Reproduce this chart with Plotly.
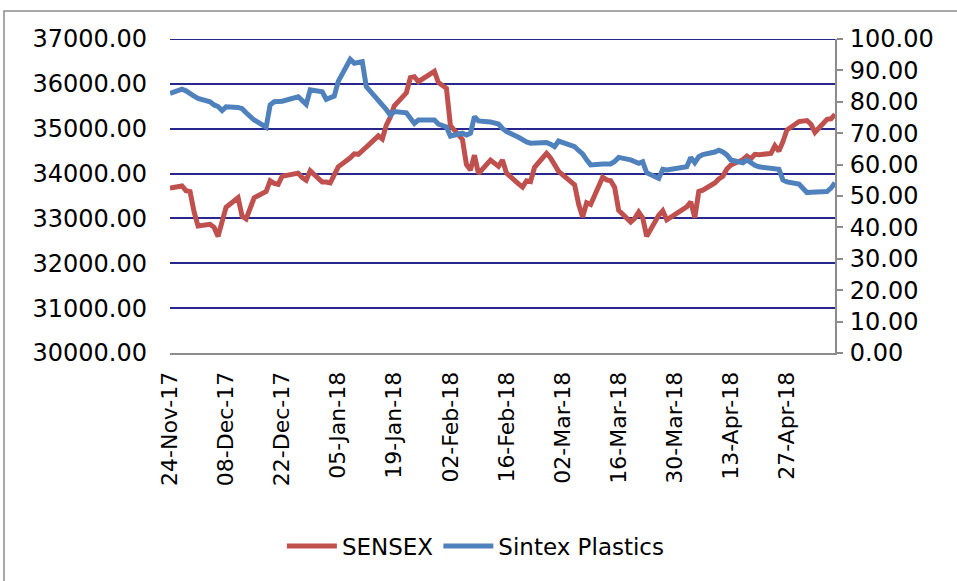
import plotly.graph_objects as go

# ---------------- data ----------------
sensex_dates = [
    "2017-11-24", "2017-11-27", "2017-11-28", "2017-11-29", "2017-11-30",
    "2017-12-01", "2017-12-04", "2017-12-05", "2017-12-06", "2017-12-07",
    "2017-12-08", "2017-12-11", "2017-12-12", "2017-12-13", "2017-12-14",
    "2017-12-15", "2017-12-18", "2017-12-19", "2017-12-20", "2017-12-21",
    "2017-12-22", "2017-12-26", "2017-12-27", "2017-12-28", "2017-12-29",
    "2018-01-01", "2018-01-02", "2018-01-03", "2018-01-04", "2018-01-05",
    "2018-01-08", "2018-01-09", "2018-01-10", "2018-01-11", "2018-01-12",
    "2018-01-15", "2018-01-16", "2018-01-17", "2018-01-18", "2018-01-19",
    "2018-01-22", "2018-01-23", "2018-01-24", "2018-01-25", "2018-01-29",
    "2018-01-30", "2018-01-31", "2018-02-01", "2018-02-02", "2018-02-05",
    "2018-02-06", "2018-02-07", "2018-02-08", "2018-02-09", "2018-02-12",
    "2018-02-14", "2018-02-15", "2018-02-16", "2018-02-19", "2018-02-20",
    "2018-02-21", "2018-02-22", "2018-02-23", "2018-02-26", "2018-02-27",
    "2018-02-28", "2018-03-01", "2018-03-05", "2018-03-06", "2018-03-07",
    "2018-03-08", "2018-03-09", "2018-03-12", "2018-03-13", "2018-03-14",
    "2018-03-15", "2018-03-16", "2018-03-19", "2018-03-20", "2018-03-21",
    "2018-03-22", "2018-03-23", "2018-03-26", "2018-03-27", "2018-03-28",
    "2018-04-02", "2018-04-03", "2018-04-04", "2018-04-05", "2018-04-06",
    "2018-04-09", "2018-04-10", "2018-04-11", "2018-04-12", "2018-04-13",
    "2018-04-16", "2018-04-17", "2018-04-18", "2018-04-19", "2018-04-20",
    "2018-04-23", "2018-04-24", "2018-04-25", "2018-04-26", "2018-04-27",
    "2018-04-30", "2018-05-02", "2018-05-03", "2018-05-04", "2018-05-07",
    "2018-05-08", "2018-05-09",
]
sensex_values = [
    33680, 33725, 33620, 33600, 33150,
    32830, 32870, 32800, 32600, 32950,
    33250, 33460, 33050, 32990, 33250,
    33460, 33600, 33840, 33780, 33760,
    33940, 34010, 33910, 33850, 34060,
    33810, 33810, 33790, 33970, 34150,
    34350, 34440, 34430, 34500, 34590,
    34840, 34770, 35080, 35260, 35510,
    35800, 36140, 36160, 36050, 36280,
    36030, 35960, 35900, 35070, 34760,
    34200, 34080, 34410, 34000, 34300,
    34160, 34300, 34010, 33770, 33700,
    33840, 33820, 34140, 34450, 34350,
    34180, 34050, 33750, 33320, 33030,
    33350, 33310, 33920, 33860, 33840,
    33690, 33180, 32920, 33000, 33140,
    33010, 32600, 33070, 33170, 32970,
    33260, 33370, 33020, 33600, 33630,
    33790, 33880, 33940, 34100, 34190,
    34310, 34390, 34330, 34430, 34420,
    34450, 34620, 34500, 34710, 34970,
    35160, 35180, 35100, 34920, 35210,
    35220, 35320,
]

sintex_dates = list(sensex_dates)
sintex_values = [
    82.7, 84.0, 83.5, 82.5, 81.8,
    81.1, 80.0, 79.0, 78.5, 77.2,
    78.4, 78.2, 77.8, 76.5, 75.3,
    74.2, 71.9, 79.0, 80.0, 80.0,
    80.2, 81.6, 80.5, 79.2, 83.8,
    83.2, 80.8, 81.5, 81.8, 86.5,
    93.5, 92.3, 92.5, 92.8, 84.8,
    80.6, 78.7, 77.5, 75.8, 76.9,
    76.5, 75.0, 73.1, 74.2, 74.2,
    72.9, 72.6, 72.0, 69.1, 70.0,
    69.4, 70.0, 75.3, 73.9, 73.6,
    72.9, 71.5, 70.5, 68.7, 67.8,
    67.2, 66.8, 66.8, 67.0, 66.5,
    65.7, 67.5, 65.7, 64.5, 63.4,
    61.5, 59.9, 60.2, 60.4, 60.2,
    61.0, 62.3, 61.5, 60.8, 60.4,
    60.9, 57.4, 55.6, 58.5, 58.3,
    59.3, 62.3, 60.6, 62.5, 63.2,
    64.0, 64.6, 64.0, 63.1, 61.5,
    60.6, 61.5, 60.5, 59.8, 59.3,
    58.7, 58.6, 58.5, 55.1, 54.5,
    53.8, 51.1, 51.2, 51.3, 51.4,
    52.5, 54.2,
]

series_names = ["SENSEX", "Sintex Plastics"]
left_ticks = [30000, 31000, 32000, 33000, 34000, 35000, 36000, 37000]
right_ticks = [0, 10, 20, 30, 40, 50, 60, 70, 80, 90, 100]
x_tick_dates = ["2017-11-24", "2017-12-08", "2017-12-22", "2018-01-05",
                "2018-01-19", "2018-02-02", "2018-02-16", "2018-03-02",
                "2018-03-16", "2018-03-30", "2018-04-13", "2018-04-27"]
x_tick_labels = ["24-Nov-17", "08-Dec-17", "22-Dec-17", "05-Jan-18",
                 "19-Jan-18", "02-Feb-18", "16-Feb-18", "02-Mar-18",
                 "16-Mar-18", "30-Mar-18", "13-Apr-18", "27-Apr-18"]

# ---------------- figure ----------------
FONT = "DejaVu Sans"
RED = "#C0504D"
BLUE = "#4F81BD"
GRID = "#28288C"

fig = go.Figure()
fig.add_trace(go.Scatter(x=sensex_dates, y=sensex_values, name=series_names[0],
                         mode="lines", line=dict(color=RED, width=5),
                         yaxis="y"))
fig.add_trace(go.Scatter(x=sintex_dates, y=sintex_values, name=series_names[1],
                         mode="lines", line=dict(color=BLUE, width=5),
                         yaxis="y2"))

W, H = 957, 581
L, R, T, B = 170, 122, 39, 228
pw, ph = W - L - R, H - T - B


def px2paper(x, y):
    return (x - L) / pw, (H - B - y) / ph


bx0, by0 = px2paper(4, 585)
bx1, by1 = px2paper(962, 11)

fig.update_layout(
    width=W, height=H,
    margin=dict(l=L, r=R, t=T, b=B, pad=0),
    paper_bgcolor="white", plot_bgcolor="white",
    font=dict(family=FONT, size=22, color="black"),
    showlegend=True,
    legend=dict(orientation="h", x=0.46, y=px2paper(0, 546)[1],
                xanchor="center", yanchor="middle",
                font=dict(family=FONT, size=23, color="black"),
                itemwidth=50, tracegroupgap=0, bgcolor="rgba(0,0,0,0)"),
    xaxis=dict(
        type="date",
        range=["2017-11-24", "2018-05-09"],
        tickmode="array", tickvals=x_tick_dates, ticktext=x_tick_labels,
        tickangle=-90, ticks="", showgrid=False,
        showline=True, linecolor="#8C8C8C", linewidth=2,
        tickfont=dict(family=FONT, size=22, color="black"),
        ticklabelstandoff=8,
        zeroline=False,
    ),
    yaxis=dict(
        range=[30000, 37000], tickmode="array", tickvals=left_ticks,
        tickformat=".2f", showgrid=True, gridcolor=GRID, gridwidth=2,
        showline=False, ticks="", zeroline=False,
        tickfont=dict(family=FONT, size=24, color="black"),
        ticklabelstandoff=22,
    ),
    yaxis2=dict(
        range=[0, 100], tickmode="array", tickvals=right_ticks,
        tickformat=".2f", overlaying="y", side="right", showgrid=False,
        showline=True, linecolor="#8C8C8C", linewidth=2,
        ticks="outside", ticklen=6, tickcolor="#8C8C8C", tickwidth=2,
        zeroline=False,
        tickfont=dict(family=FONT, size=24, color="black"),
        ticklabelstandoff=2,
    ),
    shapes=[
        dict(type="rect", xref="paper", yref="paper",
             x0=bx0, y0=by0, x1=bx1, y1=by1,
             line=dict(color="#8C8C8C", width=1.5),
             fillcolor="rgba(0,0,0,0)", layer="below"),
        dict(type="line", xref="paper", yref="y",
             x0=0, x1=1, y0=left_ticks[-1], y1=left_ticks[-1],
             line=dict(color=GRID, width=2), layer="below"),
    ],
)

fig.write_html("out.html")
